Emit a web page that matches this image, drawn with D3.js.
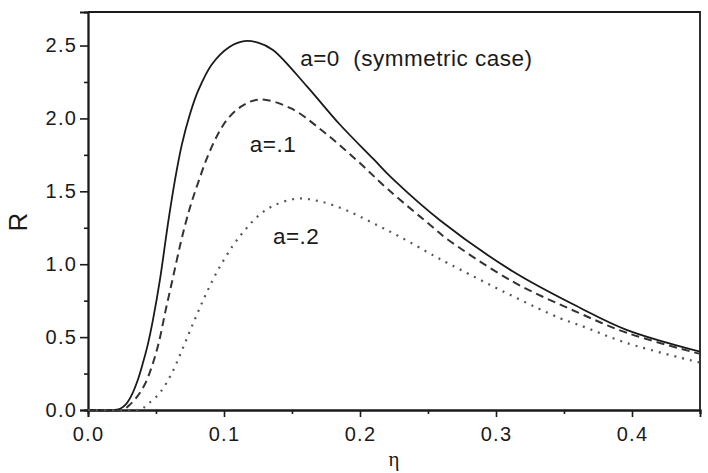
<!DOCTYPE html>
<html>
<head>
<meta charset="utf-8">
<script src="https://cdn.jsdelivr.net/npm/d3@7"></script>
<style>
  body { margin: 0; background: #fff; }
  svg { display: block; }
  text { font-family: "Liberation Sans", Arial, sans-serif; fill: #1a1a1a; }
</style>
</head>
<body>
<svg></svg>
<script>
// R versus eta for three asymmetry values
let etaSym = [0, 0.020, 0.024, 0.028, 0.032, 0.036, 0.040, 0.044, 0.048, 0.053, 0.059, 0.064, 0.069, 0.075, 0.081, 0.091, 0.104, 0.115, 0.125, 0.136, 0.161, 0.185, 0.210, 0.2235, 0.259, 0.3125, 0.362, 0.396, 0.45]
let rSym   = [0, 0, 0.01, 0.04, 0.10, 0.19, 0.31, 0.45, 0.63, 0.90, 1.29, 1.58, 1.82, 2.03, 2.19, 2.37, 2.49, 2.53, 2.52, 2.47, 2.22, 1.96, 1.72, 1.59, 1.30, 0.95, 0.70, 0.55, 0.40]

let etaA1 = [0, 0.025, 0.030, 0.036, 0.042, 0.047, 0.052, 0.057, 0.0625, 0.068, 0.072, 0.076, 0.081, 0.088, 0.096, 0.103, 0.114, 0.1265, 0.149, 0.173, 0.198, 0.221, 0.254, 0.263, 0.3125, 0.36, 0.396, 0.45]
let rA1   = [0, 0, 0.03, 0.09, 0.18, 0.30, 0.46, 0.68, 0.91, 1.14, 1.29, 1.42, 1.56, 1.74, 1.90, 2.00, 2.09, 2.13, 2.07, 1.91, 1.71, 1.51, 1.25, 1.18, 0.88, 0.67, 0.53, 0.385]

let etaA2 = [0, 0.036, 0.040, 0.044, 0.053, 0.062, 0.070, 0.078, 0.086, 0.095, 0.106, 0.115, 0.125, 0.136, 0.154, 0.171, 0.190, 0.210, 0.229, 0.254, 0.264, 0.3125, 0.347, 0.362, 0.396, 0.45]
let rA2   = [0, 0, 0.01, 0.04, 0.12, 0.26, 0.43, 0.61, 0.78, 0.95, 1.12, 1.23, 1.33, 1.40, 1.45, 1.43, 1.37, 1.28, 1.19, 1.06, 1.01, 0.78, 0.63, 0.58, 0.46, 0.325]

let xTicks = [0.0, 0.1, 0.2, 0.3, 0.4]
let xMinor = [0.05, 0.15, 0.25, 0.35, 0.45]
let yTicks = [0.0, 0.5, 1.0, 1.5, 2.0, 2.5]
let yMinor = [0.25, 0.75, 1.25, 1.75, 2.25]

let labels = [
    { text: 'a=0  (symmetric case)', eta: 0.156, r: 2.36 },
    { text: 'a=.1', eta: 0.119, r: 1.77 },
    { text: 'a=.2', eta: 0.136, r: 1.14 }
]

let width = 708
let height = 473
let plotLeft = 88, plotRight = 700, plotTop = 12, plotBottom = 410

let svg = d3.select('svg').attr('width', width).attr('height', height)

let xScale = d3.scaleLinear().domain([0, 0.45]).range([plotLeft, plotRight])
let yScale = d3.scaleLinear().domain([0, 2.73]).range([plotBottom, plotTop])

// frame (top and right)
svg.append('path')
   .attr('d', 'M' + plotLeft + ',' + plotTop + 'H' + plotRight + 'V' + plotBottom)
   .attr('fill', 'none')
   .attr('stroke', '#1a1a1a')
   .attr('stroke-width', 1.8)

let styleAxis = (g) => {
    g.selectAll('.domain').attr('stroke', '#1a1a1a').attr('stroke-width', 1.8)
    g.selectAll('.tick line').attr('stroke', '#1a1a1a').attr('stroke-width', 1.6)
    g.selectAll('text')
     .attr('font-size', 20)
     .attr('letter-spacing', 1.2)
     .attr('fill', '#1a1a1a')
}

svg.append('g')
   .attr('transform', 'translate(0,' + plotBottom + ')')
   .call(d3.axisBottom(xScale).tickValues(xTicks).tickFormat(d3.format('.1f')).tickSize(7).tickPadding(10))
   .call(styleAxis)

svg.append('g')
   .attr('transform', 'translate(0,' + plotBottom + ')')
   .call(d3.axisBottom(xScale).tickValues(xMinor).tickFormat('').tickSize(4))
   .call(styleAxis)

svg.append('g')
   .attr('transform', 'translate(' + plotLeft + ',0)')
   .call(d3.axisLeft(yScale).tickValues(yTicks).tickFormat(d3.format('.1f')).tickSize(8).tickPadding(3))
   .call(styleAxis)

svg.append('g')
   .attr('transform', 'translate(' + plotLeft + ',0)')
   .call(d3.axisLeft(yScale).tickValues(yMinor).tickFormat('').tickSize(4))
   .call(styleAxis)

// curves
let line = d3.line()
    .x(d => xScale(d[0]))
    .y(d => yScale(d[1]))
    .curve(d3.curveCatmullRom.alpha(0.5))

let series = [
    { eta: etaSym, r: rSym, dash: null, color: '#1a1a1a', w: 1.8 },
    { eta: etaA1, r: rA1, dash: '8,5', color: '#333', w: 2 },
    { eta: etaA2, r: rA2, dash: '2,6', color: '#555', w: 2.2 }
]

series.forEach(s => {
    let pts = s.eta.map((e, i) => [e, s.r[i]])
    svg.append('path')
       .datum(pts)
       .attr('d', line)
       .attr('fill', 'none')
       .attr('stroke', s.color)
       .attr('stroke-width', s.w)
       .attr('stroke-dasharray', s.dash)
})

svg.selectAll('.note')
   .data(labels)
   .enter()
   .append('text')
   .attr('class', 'note')
   .attr('x', d => xScale(d.eta))
   .attr('y', d => yScale(d.r))
   .attr('font-size', 22.5)
   .attr('letter-spacing', 0.5)
   .style('white-space', 'pre')
   .text(d => d.text)

// axis titles
svg.append('text')
   .attr('transform', 'translate(27,222) rotate(-90)')
   .attr('text-anchor', 'middle')
   .attr('font-size', 26)
   .text('R')

svg.append('text')
   .attr('x', 394)
   .attr('y', 466)
   .attr('text-anchor', 'middle')
   .attr('font-size', 21)
   .style('font-family', '"Liberation Serif", serif')
   .text('η')
</script>
</body>
</html>
